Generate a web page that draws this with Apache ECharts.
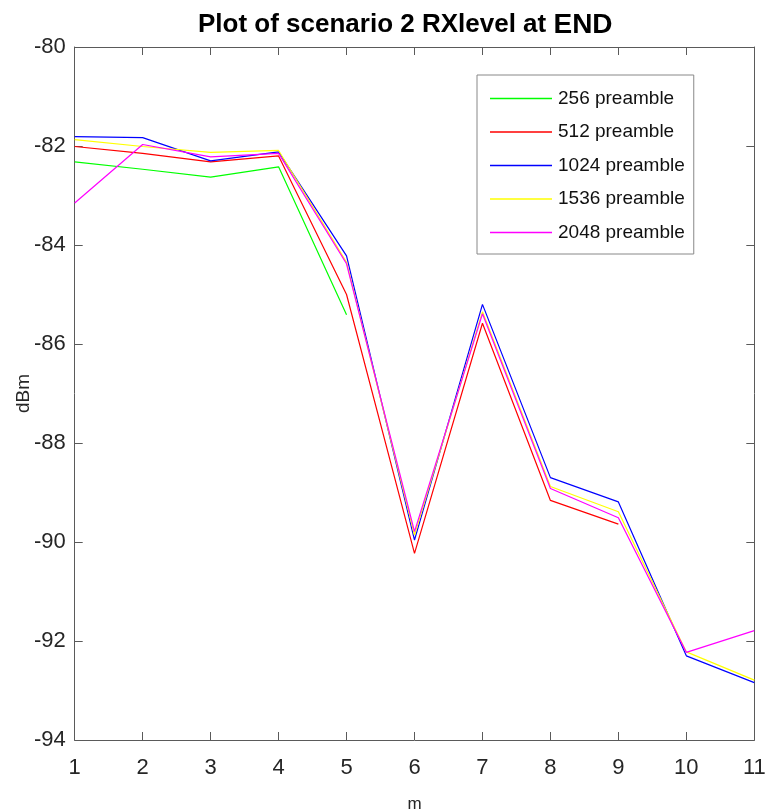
<!DOCTYPE html>
<html>
<head>
<meta charset="utf-8">
<script src="https://cdn.jsdelivr.net/npm/echarts@6/dist/echarts.min.js"></script>
<style>
  html, body { margin: 0; padding: 0; background: #fff; }
  #main { width: 765px; height: 812px; }
</style>
</head>
<body>
<div id="main"></div>
<script>
const xs = [1, 2, 3, 4, 5, 6, 7, 8, 9, 10, 11];
const seriesNames = ["256 preamble", "512 preamble", "1024 preamble", "1536 preamble", "2048 preamble"];
const colors = ["#00ff00", "#ff0000", "#0000ff", "#ffff00", "#ff00ff"];

const p256 = [-82.32, -82.47, -82.63, -82.42, -85.41, null, null, null, null, null, null];
const p512 = [-82.01, -82.15, -82.32, -82.20, -85.00, -90.23, -85.58, -89.16, -89.64, null, null];
const p1024 = [-81.81, -81.83, -82.30, -82.12, -84.22, -89.96, -85.20, -88.70, -89.19, -92.30, -92.84];
const p1536 = [-81.87, -82.01, -82.13, -82.09, -84.35, -89.86, -85.35, -88.88, -89.39, -92.22, -92.79];
const p2048 = [-83.15, -81.97, -82.22, -82.15, -84.38, -89.79, -85.39, -88.92, -89.51, -92.23, -91.79];

const allValues = [p256, p512, p1024, p1536, p2048];

const font = "'Liberation Sans', Arial, sans-serif";
const axisGray = "#5a5a5a";

const myChart = echarts.init(document.getElementById("main"));

const series = allValues.map((vals, i) => ({
  name: seriesNames[i],
  type: "line",
  symbol: "none",
  color: colors[i],
  lineStyle: { width: 1.2, color: colors[i] },
  data: xs.map((x, k) => vals[k] === null ? null : [x, vals[k]]).filter(d => d !== null)
}));

const options = {
  backgroundColor: "#fff",
  animation: false,
  title: {
    text: "{a|Plot of scenario 2 RXlevel at }{b|END}",
    left: 193,
    top: 6,
    textStyle: {
      rich: {
        a: { fontFamily: font, fontWeight: "bold", fontSize: 26, color: "#000" },
        b: { fontFamily: font, fontWeight: "bold", fontSize: 28, color: "#000" }
      }
    }
  },
  legend: {
    orient: "vertical",
    left: 477,
    top: 75,
    padding: [13, 9, 11, 13],
    icon: "rect",
    itemWidth: 62,
    itemHeight: 1.3,
    itemGap: 12.5,
    borderColor: "#888",
    borderWidth: 1,
    backgroundColor: "#fff",
    textStyle: { fontFamily: font, fontSize: 19, color: "#111", lineHeight: 21, padding: [0, 0, 0, 1] },
    data: seriesNames
  },
  grid: { left: 74.7, right: 10.7, top: 47, bottom: 72, outerBoundsMode: "none" },
  xAxis: [
    {
      type: "value",
      min: 1,
      max: 11,
      interval: 1,
      name: "m",
      nameLocation: "middle",
      nameGap: 56,
      nameMoveOverlap: false,
      nameTextStyle: { fontFamily: font, fontSize: 17, color: "#262626" },
      axisLine: { show: true, lineStyle: { color: axisGray } },
      axisTick: { show: true, inside: true, length: 8, lineStyle: { color: axisGray } },
      axisLabel: { fontFamily: font, fontSize: 22, color: "#262626", margin: 17 },
      splitLine: { show: false }
    },
    {
      type: "value",
      position: "top",
      min: 1,
      max: 11,
      interval: 1,
      axisLine: { show: true, lineStyle: { color: axisGray } },
      axisTick: { show: true, inside: true, length: 8, lineStyle: { color: axisGray } },
      axisLabel: { show: false },
      splitLine: { show: false }
    }
  ],
  yAxis: [
    {
      type: "value",
      min: -94,
      max: -80,
      interval: 2,
      name: "dBm",
      nameLocation: "middle",
      nameGap: 41,
      nameMoveOverlap: false,
      nameRotate: 90,
      nameTextStyle: { fontFamily: font, fontSize: 19, color: "#262626" },
      axisLine: { show: true, lineStyle: { color: axisGray } },
      axisTick: { show: true, inside: true, length: 8, lineStyle: { color: axisGray } },
      axisLabel: { fontFamily: font, fontSize: 22, color: "#262626", margin: 9 },
      splitLine: { show: false }
    },
    {
      type: "value",
      position: "right",
      min: -94,
      max: -80,
      interval: 2,
      axisLine: { show: true, lineStyle: { color: axisGray } },
      axisTick: { show: true, inside: true, length: 8, lineStyle: { color: axisGray } },
      axisLabel: { show: false },
      splitLine: { show: false }
    }
  ],
  series: series
};

myChart.setOption(options);
</script>
</body>
</html>
